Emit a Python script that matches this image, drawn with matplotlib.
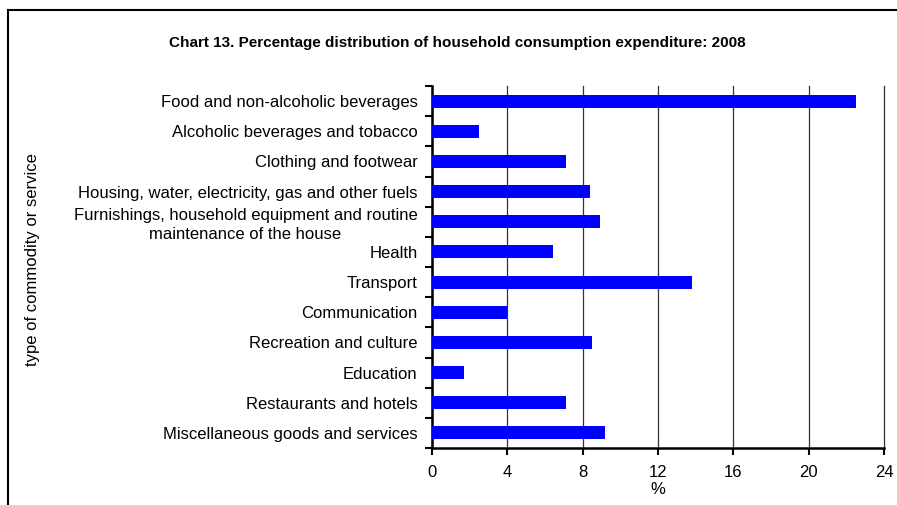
import matplotlib
matplotlib.use("Agg")
import matplotlib.pyplot as plt
from matplotlib.lines import Line2D
import numpy as np

plt.rcParams['font.family'] = ['Liberation Sans', 'DejaVu Sans']

categories = [
    "Food and non-alcoholic beverages",
    "Alcoholic beverages and tobacco",
    "Clothing and footwear",
    "Housing, water, electricity, gas and other fuels",
    "Furnishings, household equipment and routine\nmaintenance of the house",
    "Health",
    "Transport",
    "Communication",
    "Recreation and culture",
    "Education",
    "Restaurants and hotels",
    "Miscellaneous goods and services",
]
values = [22.5, 2.5, 7.1, 8.4, 8.9, 6.4, 13.8, 4.0, 8.5, 1.7, 7.1, 9.2]
xticks = [0, 4, 8, 12, 16, 20, 24]

fig = plt.figure(figsize=(8.97, 5.05), dpi=100)
ax = fig.add_axes([432/897, 1-448/505, 452/897, (448-86)/505])

n = len(categories)
pos = np.arange(n)[::-1]
ax.barh(pos, values, height=0.43, color='#0000FF', zorder=3)
ax.set_ylim(-0.5, n-0.5)
ax.set_xlim(0, 24)

ax.set_xticks(xticks)
ax.set_xticklabels([str(t) for t in xticks], fontsize=12)
ax.set_yticks(pos)
ylabels = ax.set_yticklabels(categories, fontsize=12)
for lab in ylabels:
    lab.set_multialignment('center')
    lab.set_linespacing(1.35)
ax.tick_params(axis='y', which='major', length=0, pad=10.5)
ax.set_yticks(np.arange(n+1) - 0.5, minor=True)
ax.tick_params(axis='y', which='minor', length=5, width=1.5, direction='out')
ax.tick_params(axis='x', which='major', length=5, width=1.5, direction='out', pad=7)

ax.grid(axis='x', color='#333333', linewidth=0.9, zorder=0)
for gl in ax.get_xgridlines():
    gl.set_clip_on(False)
ax.set_axisbelow(True)
for s in ['top', 'right']:
    ax.spines[s].set_visible(False)
for s in ['left', 'bottom']:
    ax.spines[s].set_linewidth(1.8)

ax.set_xlabel('%', fontsize=12, labelpad=2)
fig.text(33/897, 1-260/505, 'type of commodity or service', rotation=90,
         ha='center', va='center', fontsize=12)
fig.text(457/897, 1-43/505,
         'Chart 13. Percentage distribution of household consumption expenditure: 2008',
         ha='center', va='center', fontsize=11, fontweight='bold')

# frame lines (cropped border)
fig.add_artist(Line2D([8/897, 8/897], [0, 1-9.5/505], color='black', linewidth=1.5,
                      transform=fig.transFigure))
fig.add_artist(Line2D([8/897, 1], [1-9.5/505, 1-9.5/505], color='black', linewidth=1.5,
                      transform=fig.transFigure))

fig.savefig('out.png', dpi=100)
